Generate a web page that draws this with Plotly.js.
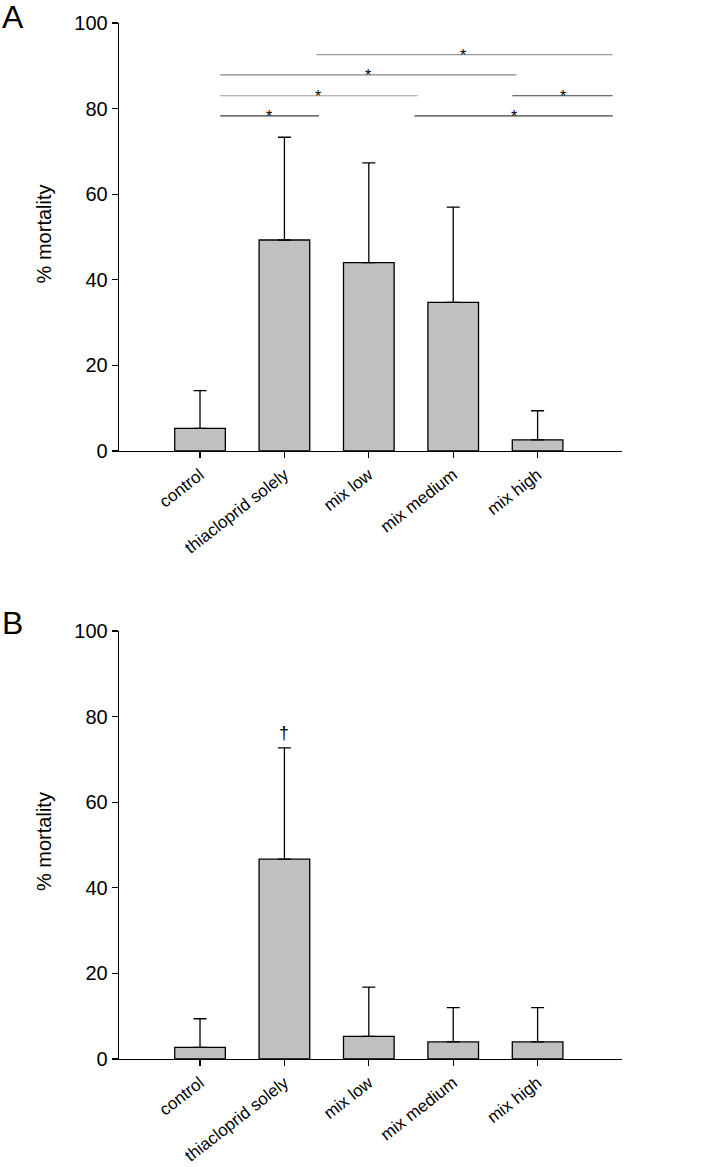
<!DOCTYPE html>
<html><head><meta charset="utf-8">
<script src="https://cdn.plot.ly/plotly-3.0.1.min.js"></script>
<style>body{margin:0;padding:0;background:#fff}#chart{width:715px;height:1167px}</style>
</head><body><div id="chart"></div>
<script>
const categories = ["control", "thiacloprid solely", "mix low", "mix medium", "mix high"];
const meanA = [5.3, 49.3, 44.0, 34.7, 2.6];
const sdA   = [8.8, 24.0, 23.3, 22.3, 6.8];
const meanB = [2.7, 46.7, 5.3, 4.0, 4.0];
const sdB   = [6.7, 26.0, 11.5, 8.0, 8.0];
const yTicks = [0, 20, 40, 60, 80, 100];
// significance brackets in panel A
const sigFrom = [1.38, 0.24, 0.24, 0.24, 3.70, 2.54];
const sigTo   = [4.89, 3.75, 2.58, 1.41, 4.89, 4.89];
const sigY    = [92.6, 87.9, 83.0, 78.3, 83.0, 78.3];
const sigStar = [3.12, 1.99, 1.40, 0.82, 4.30, 3.72];
const sigCol  = ["#9a9a9a", "#8a8a8a", "#a0a0a0", "#404040", "#404040", "#404040"];
const daggerCat = 1, daggerY = 76.2;

const font = "Liberation Sans, Arial, sans-serif";
function barTrace(y, e, xa, ya) {
  return {type: "bar", x: categories, y: y, xaxis: xa, yaxis: ya, width: 0.6,
    marker: {color: "#c0c0c0", line: {color: "#000", width: 1.3}},
    error_y: {type: "data", symmetric: false, array: e, arrayminus: e.map(() => 0),
      color: "#000", thickness: 1.3, width: 6.5},
    showlegend: false, hoverinfo: "none"};
}
const xCommon = {type: "category", range: [-0.96, 5.0], showline: true, linecolor: "#000", linewidth: 1.3,
  ticks: "outside", ticklen: 6, tickcolor: "#000", tickwidth: 1.3, tickangle: -38,
  tickfont: {family: font, size: 17, color: "#000"}, showgrid: false, zeroline: false, fixedrange: true};
const yCommon = {range: [0, 100], tickvals: yTicks, showline: true, linecolor: "#000", linewidth: 1.3,
  ticks: "outside", ticklen: 6, tickcolor: "#000", tickwidth: 1.3,
  tickfont: {family: font, size: 20, color: "#000"}, showgrid: false, zeroline: false, fixedrange: true};

const shapes = [], annotations = [];
for (let i = 0; i < sigFrom.length; i++) {
  shapes.push({type: "line", xref: "x", yref: "y", x0: sigFrom[i], x1: sigTo[i], y0: sigY[i], y1: sigY[i],
    line: {color: sigCol[i], width: 1.2}});
  annotations.push({xref: "x", yref: "y", x: sigStar[i], y: sigY[i], text: "*", showarrow: false,
    yanchor: "bottom", yshift: -11, font: {family: font, size: 16, color: "#000"}});
}
annotations.push({xref: "x2", yref: "y2", x: daggerCat, y: daggerY, text: "†", showarrow: false,
  yanchor: "middle", font: {family: font, size: 18, color: "#000"}});
annotations.push({xref: "paper", yref: "paper", x: -0.2366, y: 1.025, xanchor: "left", yanchor: "top",
  text: "A", showarrow: false, font: {family: font, size: 32, color: "#000"}});
annotations.push({xref: "paper", yref: "paper", x: -0.2366, y: 0.44, xanchor: "left", yanchor: "top",
  text: "B", showarrow: false, font: {family: font, size: 32, color: "#000"}});
annotations.push({xref: "paper", yref: "paper", x: -0.149, y: 0.796, xanchor: "center", yanchor: "middle",
  text: "% mortality", textangle: -90, showarrow: false, font: {family: font, size: 20, color: "#000"}});
annotations.push({xref: "paper", yref: "paper", x: -0.149, y: 0.2095, xanchor: "center", yanchor: "middle",
  text: "% mortality", textangle: -90, showarrow: false, font: {family: font, size: 20, color: "#000"}});

const layout = {
  width: 715, height: 1167, margin: {l: 119, r: 93, t: 23, b: 108},
  paper_bgcolor: "#fff", plot_bgcolor: "#fff", bargap: 0.4,
  xaxis: Object.assign({}, xCommon, {anchor: "y"}),
  yaxis: Object.assign({}, yCommon, {domain: [0.5869, 1], anchor: "x"}),
  xaxis2: Object.assign({}, xCommon, {anchor: "y2"}),
  yaxis2: Object.assign({}, yCommon, {domain: [0, 0.4131], anchor: "x2"}),
  shapes: shapes, annotations: annotations
};
Plotly.newPlot("chart", [barTrace(meanA, sdA, "x", "y"), barTrace(meanB, sdB, "x2", "y2")], layout,
  {displayModeBar: false, staticPlot: true});
</script></body></html>
